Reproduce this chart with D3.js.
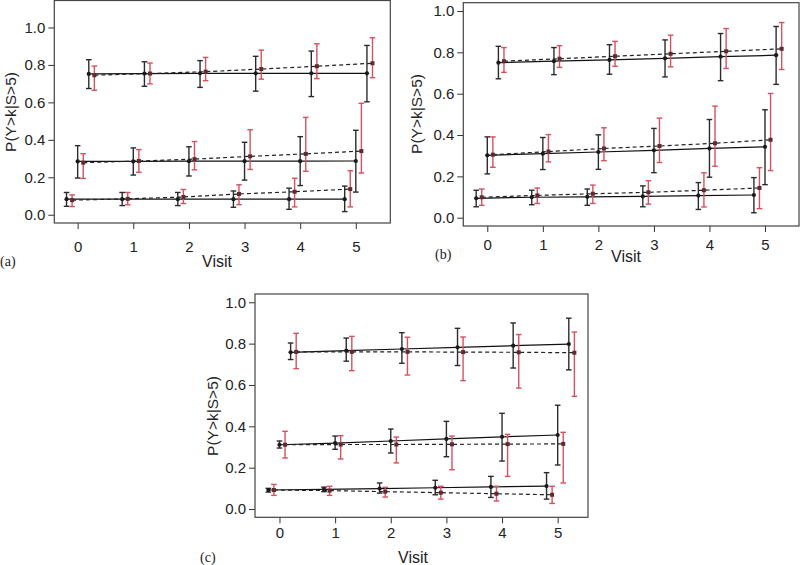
<!DOCTYPE html>
<html>
<head>
<meta charset="utf-8">
<script src="https://cdn.jsdelivr.net/npm/d3@7"></script>
<style>
  html, body { margin: 0; padding: 0; background: #fff; }
  svg { display: block; }
  text { font-family: "Liberation Sans", Arial, Helvetica, sans-serif; fill: #222; }
</style>
</head>
<body>
<svg id="chart" width="800" height="565"></svg>
<script>
// ---------------- data ----------------
const visits = [0, 1, 2, 3, 4, 5];
const yTicks = [0, 0.2, 0.4, 0.6, 0.8, 1.0];
const yTickLabels = ["0.0", "0.2", "0.4", "0.6", "0.8", "1.0"];
const xTickLabels = ["0", "1", "2", "3", "4", "5"];
const panelLabels = ["(a)", "(b)", "(c)"];
const xTitle = "Visit";
const yTitle = "P(Y>k|S>5)";

// each entry: [estimate, lower, upper] per visit
// Panel (a)
const aTopBlk = [[0.752,0.674,0.828],[0.754,0.686,0.817],[0.755,0.680,0.823],[0.755,0.660,0.846],[0.755,0.631,0.874],[0.755,0.603,0.904]];
const aTopRed = [[0.745,0.665,0.794],[0.754,0.699,0.810],[0.764,0.716,0.840],[0.778,0.724,0.879],[0.793,0.727,0.913],[0.809,0.732,0.945]];
const aMidBlk = [[0.285,0.196,0.369],[0.285,0.212,0.357],[0.286,0.207,0.363],[0.286,0.185,0.387],[0.286,0.156,0.417],[0.287,0.121,0.451]];
const aMidRed = [[0.278,0.194,0.326],[0.287,0.227,0.348],[0.297,0.240,0.391],[0.312,0.242,0.454],[0.325,0.232,0.520],[0.340,0.223,0.595]];
const aBotBlk = [[0.083,0.045,0.119],[0.083,0.049,0.119],[0.083,0.049,0.119],[0.083,0.040,0.127],[0.083,0.029,0.142],[0.083,0.017,0.153]];
const aBotRed = [[0.078,0.044,0.106],[0.085,0.053,0.119],[0.095,0.060,0.135],[0.111,0.054,0.160],[0.123,0.042,0.195],[0.137,0.042,0.235]];
// Panel (b)
const bTopBlk = [[0.750,0.672,0.829],[0.757,0.692,0.823],[0.763,0.694,0.837],[0.771,0.681,0.860],[0.779,0.663,0.891],[0.786,0.645,0.925]];
const bTopRed = [[0.757,0.703,0.823],[0.769,0.727,0.832],[0.781,0.733,0.853],[0.793,0.730,0.883],[0.805,0.722,0.915],[0.817,0.717,0.944]];
const bMidBlk = [[0.302,0.212,0.391],[0.310,0.233,0.388],[0.318,0.234,0.401],[0.326,0.218,0.432],[0.335,0.196,0.475],[0.343,0.160,0.522]];
const bMidRed = [[0.305,0.244,0.391],[0.320,0.270,0.402],[0.335,0.276,0.435],[0.347,0.267,0.482],[0.360,0.249,0.540],[0.377,0.228,0.601]];
const bBotBlk = [[0.094,0.053,0.133],[0.099,0.063,0.133],[0.101,0.060,0.139],[0.103,0.053,0.154],[0.107,0.040,0.170],[0.110,0.024,0.194]];
const bBotRed = [[0.099,0.060,0.139],[0.108,0.069,0.144],[0.116,0.069,0.158],[0.123,0.066,0.179],[0.133,0.052,0.217],[0.144,0.044,0.242]];
// Panel (c)
const cTopBlk = [[0.758,0.723,0.803],[0.766,0.715,0.827],[0.774,0.705,0.853],[0.782,0.694,0.874],[0.790,0.682,0.900],[0.798,0.673,0.923]];
const cTopRed = [[0.760,0.679,0.850],[0.760,0.669,0.835],[0.760,0.648,0.831],[0.759,0.621,0.832],[0.758,0.585,0.844],[0.756,0.545,0.856]];
const cMidBlk = [[0.311,0.295,0.329],[0.319,0.289,0.353],[0.329,0.271,0.387],[0.339,0.253,0.424],[0.349,0.232,0.463],[0.358,0.213,0.502]];
const cMidRed = [[0.311,0.247,0.376],[0.312,0.242,0.355],[0.312,0.223,0.348],[0.313,0.190,0.353],[0.314,0.158,0.361],[0.315,0.126,0.371]];
const cBotBlk = [[0.092,0.082,0.100],[0.095,0.084,0.106],[0.099,0.077,0.126],[0.103,0.069,0.139],[0.107,0.056,0.158],[0.111,0.048,0.176]];
const cBotRed = [[0.092,0.066,0.119],[0.089,0.066,0.110],[0.084,0.058,0.105],[0.079,0.048,0.110],[0.074,0.039,0.110],[0.069,0.027,0.110]];

// ---------------- layout ----------------
const panels = [
  { label: panelLabels[0], frame: [54.3, 390.3, 0.5, 223], xDom: [-0.42, 5.62], yDom: [-0.044, 1.144],
    xTickY: 252, xTitlePos: [217, 267], yTitlePos: [11, 112], labelPos: [0, 266],
    groups: [[aTopBlk, aTopRed, 0.2], [aMidBlk, aMidRed, 0], [aBotBlk, aBotRed, -0.2]] },
  { label: panelLabels[1], frame: [463.3, 799, 2.7, 226], xDom: [-0.432, 5.612], yDom: [-0.04, 1.04],
    xTickY: 250, xTitlePos: [626, 262], yTitlePos: [417, 114], labelPos: [435, 259],
    groups: [[bTopBlk, bTopRed, 0.2], [bMidBlk, bMidRed, 0], [bBotBlk, bBotRed, -0.2]] },
  { label: panelLabels[2], frame: [255, 588, 294, 517.3], xDom: [-0.44, 5.545], yDom: [-0.04, 1.04],
    xTickY: 538, xTitlePos: [413, 563], yTitlePos: [213, 416], labelPos: [200, 562],
    groups: [[cTopBlk, cTopRed, 0.2], [cMidBlk, cMidRed, 0], [cBotBlk, cBotRed, -0.2]] }
];

const svg = d3.select("#chart");
const blkBar = "#2b2b2b", redBar = "#d9505e", redPt = "#5e2a2e";
const capW = 2.8;

panels.forEach(p => {
  const [fx0, fx1, fy0, fy1] = p.frame;
  const x = d3.scaleLinear().domain(p.xDom).range([fx0, fx1]);
  const y = d3.scaleLinear().domain(p.yDom).range([fy1, fy0]);
  const g = svg.append("g");

  // axes
  const ya = g.append("g").attr("transform", `translate(${fx0},0)`)
    .call(d3.axisLeft(y).tickValues(yTicks).tickSize(6).tickPadding(3)
      .tickFormat((d, i) => yTickLabels[i]));
  ya.select(".domain").remove();
  ya.selectAll("line").attr("stroke", "#333");
  ya.selectAll("text").attr("font-size", 15).attr("font-family", "'Liberation Sans', Arial, sans-serif").attr("fill", "#222");

  const xa = g.append("g").attr("transform", `translate(0,${fy1})`)
    .call(d3.axisBottom(x).tickValues(visits).tickSize(6).tickPadding(0)
      .tickFormat((d, i) => xTickLabels[i]));
  xa.select(".domain").remove();
  xa.selectAll("line").attr("stroke", "#333");
  xa.selectAll("text").attr("font-size", 15).attr("font-family", "'Liberation Sans', Arial, sans-serif")
    .attr("fill", "#222").attr("dy", null).attr("y", p.xTickY - fy1);

  // frame
  g.append("rect").attr("x", fx0).attr("y", fy0).attr("width", fx1 - fx0).attr("height", fy1 - fy0)
    .attr("fill", "none").attr("stroke", "#444").attr("stroke-width", 1.2);

  // titles
  g.append("text").attr("x", p.xTitlePos[0]).attr("y", p.xTitlePos[1]).attr("text-anchor", "middle")
    .attr("font-size", 16).text(xTitle);
  g.append("text").attr("transform", `translate(${p.yTitlePos[0]},${p.yTitlePos[1]}) rotate(-90)`)
    .attr("text-anchor", "middle").attr("dy", "0.35em").attr("font-size", 15.5).text(yTitle);
  g.append("text").attr("x", p.labelPos[0]).attr("y", p.labelPos[1])
    .attr("font-size", 14)
    .style("font-family", "'Liberation Serif', 'Times New Roman', serif").text(p.label);

  const plot = g.append("g");
  p.groups.forEach(([blk, red, off]) => {
    const bx = i => x(visits[i] + off);
    const rx = i => x(visits[i] + off + 0.1);
    // lines
    plot.append("path").datum(blk)
      .attr("d", d3.line().x((d, i) => bx(i)).y(d => y(d[0])))
      .attr("fill", "none").attr("stroke", "#111").attr("stroke-width", 1.2);
    plot.append("path").datum(red)
      .attr("d", d3.line().x((d, i) => rx(i)).y(d => y(d[0])))
      .attr("fill", "none").attr("stroke", "#222").attr("stroke-width", 1.2).attr("stroke-dasharray", "4,3");
    // error bars
    [[blk, bx, blkBar], [red, rx, redBar]].forEach(([data, fx, col]) => {
      const eb = plot.append("g");
      eb.selectAll("line.v").data(data).enter().append("line")
        .attr("x1", (d, i) => fx(i)).attr("x2", (d, i) => fx(i))
        .attr("y1", d => y(d[1])).attr("y2", d => y(d[2]))
        .attr("stroke", col).attr("stroke-width", 1.4);
      eb.selectAll("line.t").data(data).enter().append("line")
        .attr("x1", (d, i) => fx(i) - capW).attr("x2", (d, i) => fx(i) + capW)
        .attr("y1", d => y(d[2])).attr("y2", d => y(d[2]))
        .attr("stroke", col).attr("stroke-width", 1.4);
      eb.selectAll("line.b").data(data).enter().append("line")
        .attr("x1", (d, i) => fx(i) - capW).attr("x2", (d, i) => fx(i) + capW)
        .attr("y1", d => y(d[1])).attr("y2", d => y(d[1]))
        .attr("stroke", col).attr("stroke-width", 1.4);
    });
    // points
    plot.append("g").selectAll("circle").data(blk).enter().append("circle")
      .attr("cx", (d, i) => bx(i)).attr("cy", d => y(d[0])).attr("r", 2.1).attr("fill", "#1a1a1a");
    plot.append("g").selectAll("rect").data(red).enter().append("rect")
      .attr("x", (d, i) => rx(i) - 2).attr("y", d => y(d[0]) - 2).attr("width", 4).attr("height", 4)
      .attr("fill", redPt);
  });
});
</script>
</body>
</html>
